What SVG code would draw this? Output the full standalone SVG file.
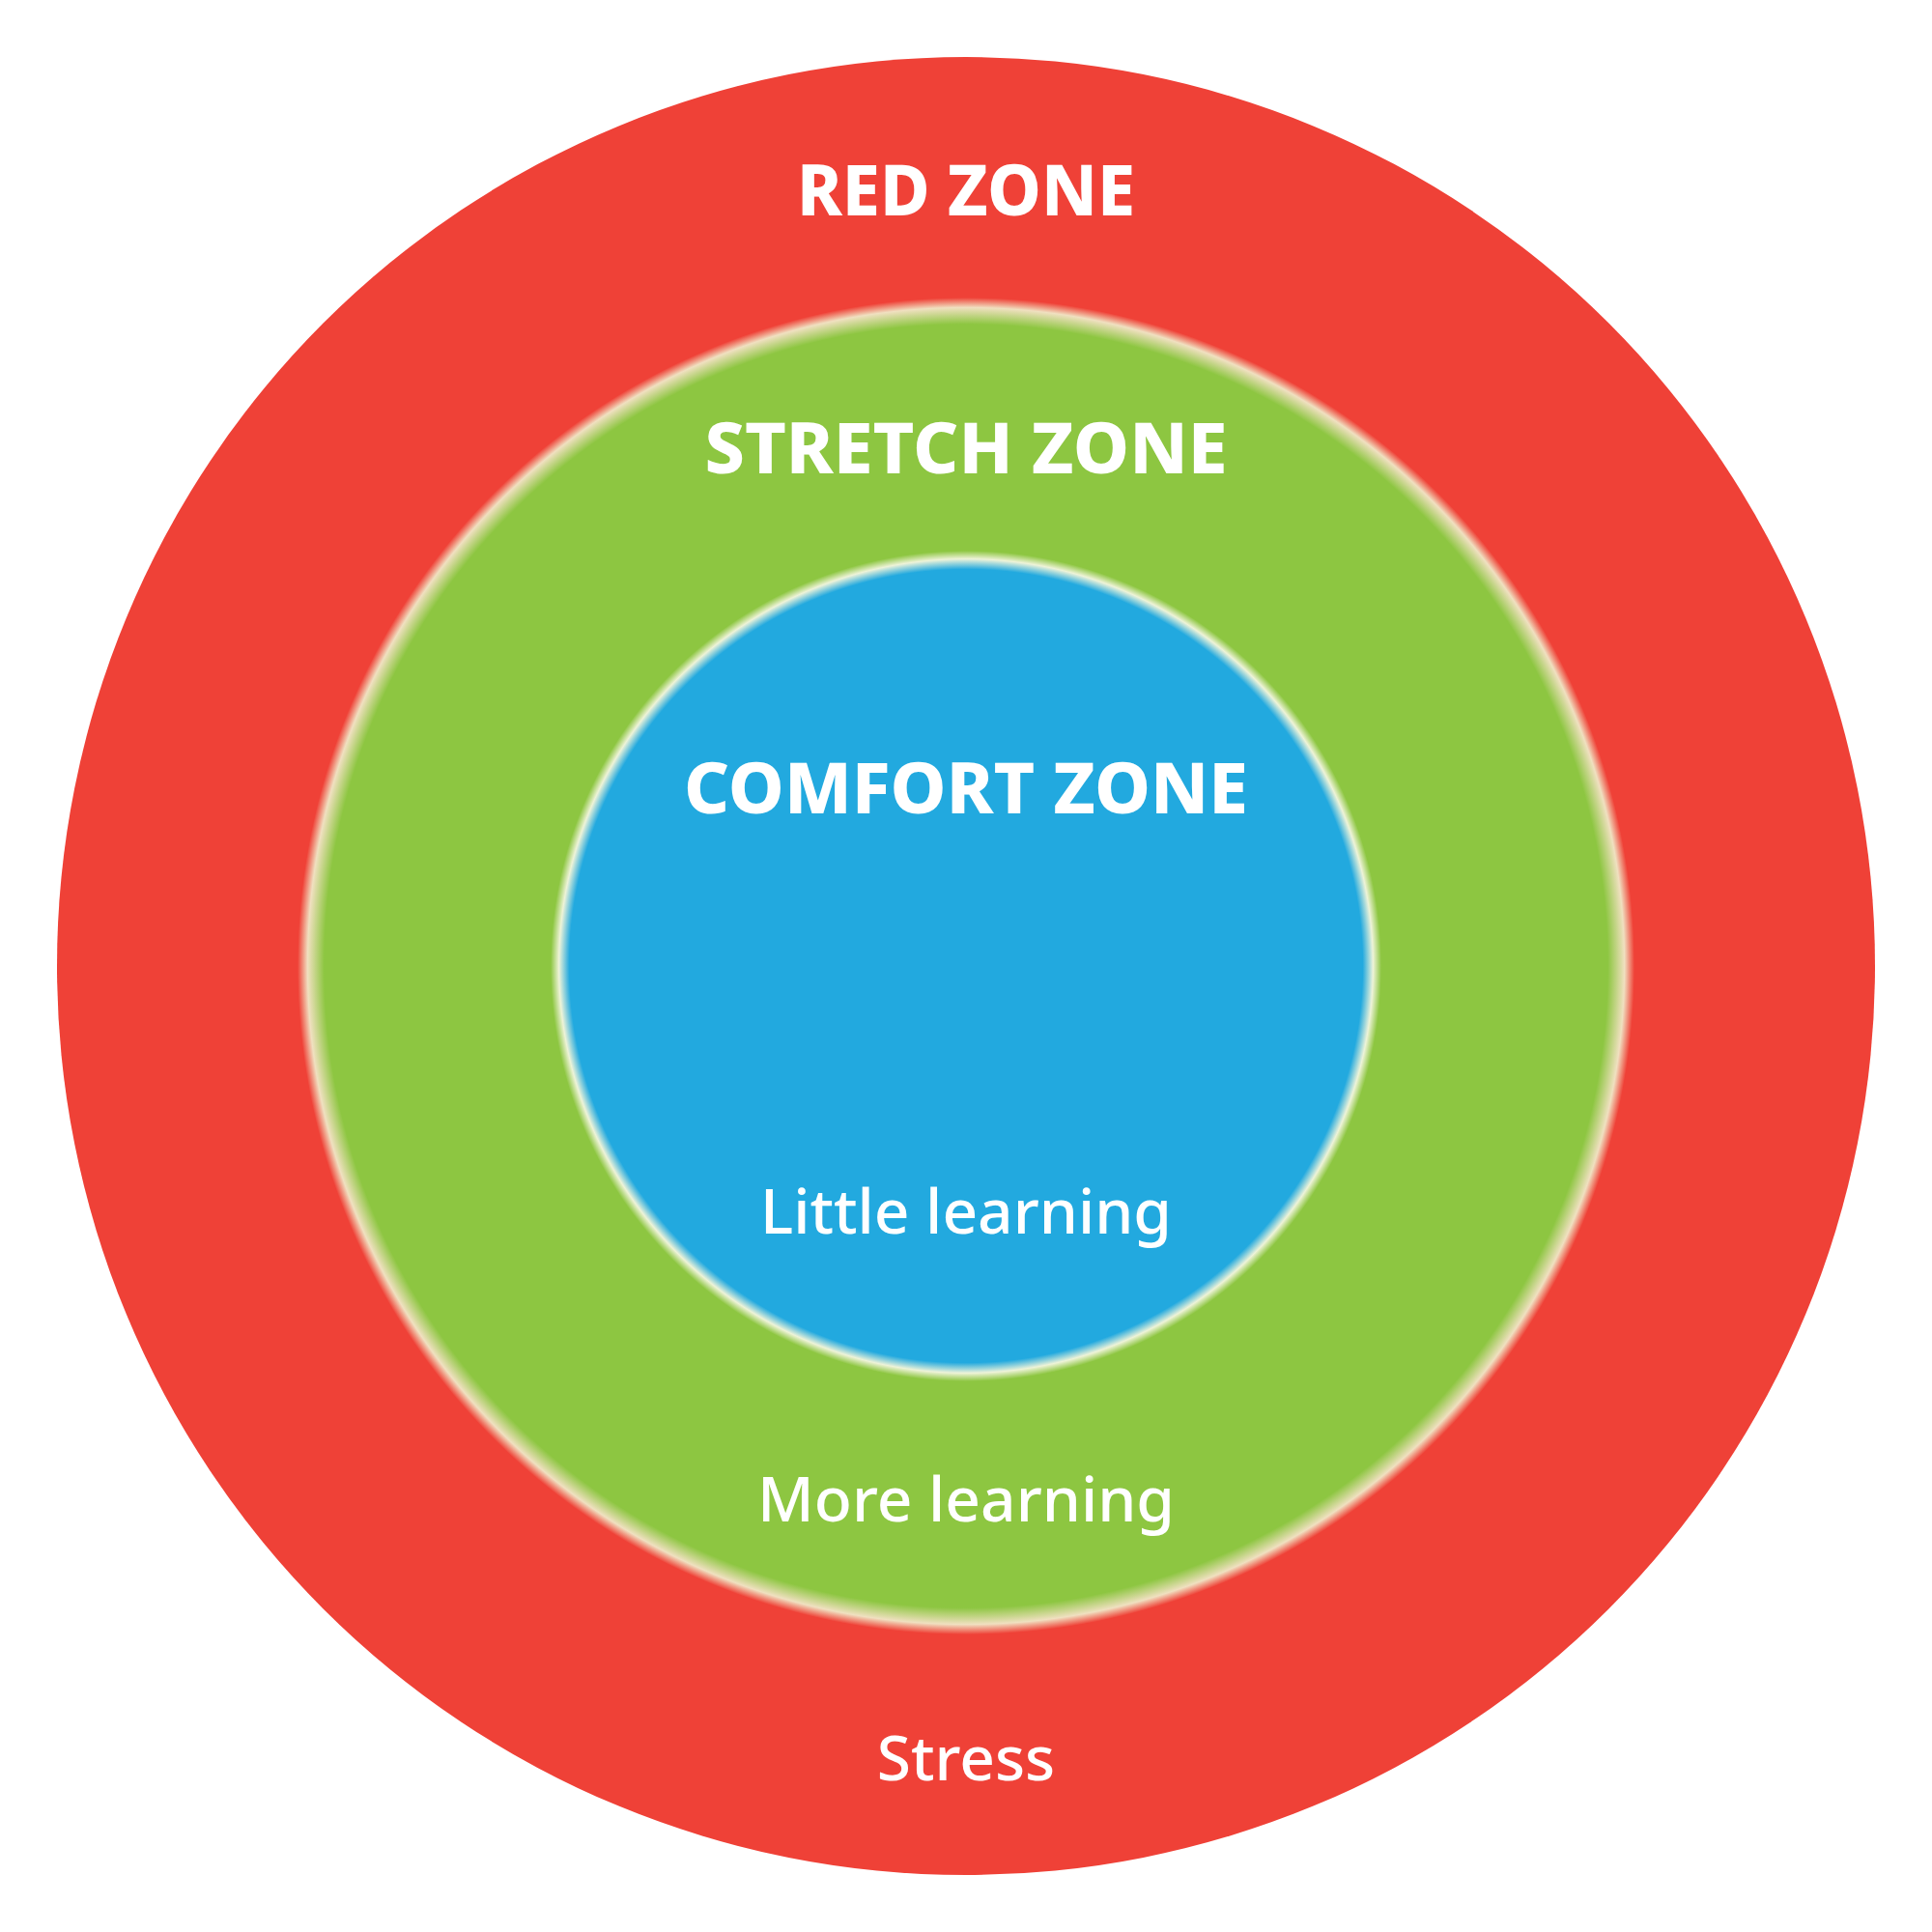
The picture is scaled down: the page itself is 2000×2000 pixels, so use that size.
<svg xmlns="http://www.w3.org/2000/svg" width="2000" height="2000" viewBox="0 0 2000 2000">
<defs>
<radialGradient id="gG" cx="0.5" cy="0.5" r="0.5">
<stop offset="0.96" stop-color="#8dc641"/>
<stop offset="0.985" stop-color="#f0e0c0"/>
<stop offset="1" stop-color="#ef4137"/>
</radialGradient>
<radialGradient id="gB" cx="0.5" cy="0.5" r="0.5">
<stop offset="0.955" stop-color="#22a9df"/>
<stop offset="0.98" stop-color="#eef3d8"/>
<stop offset="1" stop-color="#8dc641"/>
</radialGradient>
<style>
.h{font-family:"Noto Sans","Open Sans",sans-serif;font-weight:800;fill:#fff;text-anchor:middle;font-size:74px}
.s{font-family:"Noto Sans","Open Sans",sans-serif;font-weight:500;fill:#fff;text-anchor:middle;font-size:64px}
</style>
</defs>
<rect width="2000" height="2000" fill="#fff"/>
<g id="red"><circle cx="1000" cy="1000" r="941" fill="#ef4137"/>
<text class="h" x="1000" y="223" textLength="350" lengthAdjust="spacingAndGlyphs">RED ZONE</text>
<text class="s" x="1000" y="1843">Stress</text></g>
<g id="stretch"><circle cx="1000" cy="1000" r="692" fill="url(#gG)"/>
<text class="h" x="1000" y="490" textLength="541" lengthAdjust="spacingAndGlyphs">STRETCH ZONE</text>
<text class="s" x="1000" y="1575">More learning</text></g>
<g id="comfort"><circle cx="1000" cy="1000" r="430" fill="url(#gB)"/>
<text class="h" x="1000" y="842" textLength="584" lengthAdjust="spacingAndGlyphs">COMFORT ZONE</text>
<text class="s" x="1000" y="1277">Little learning</text></g>
<g id="connectors"/>
</svg>
